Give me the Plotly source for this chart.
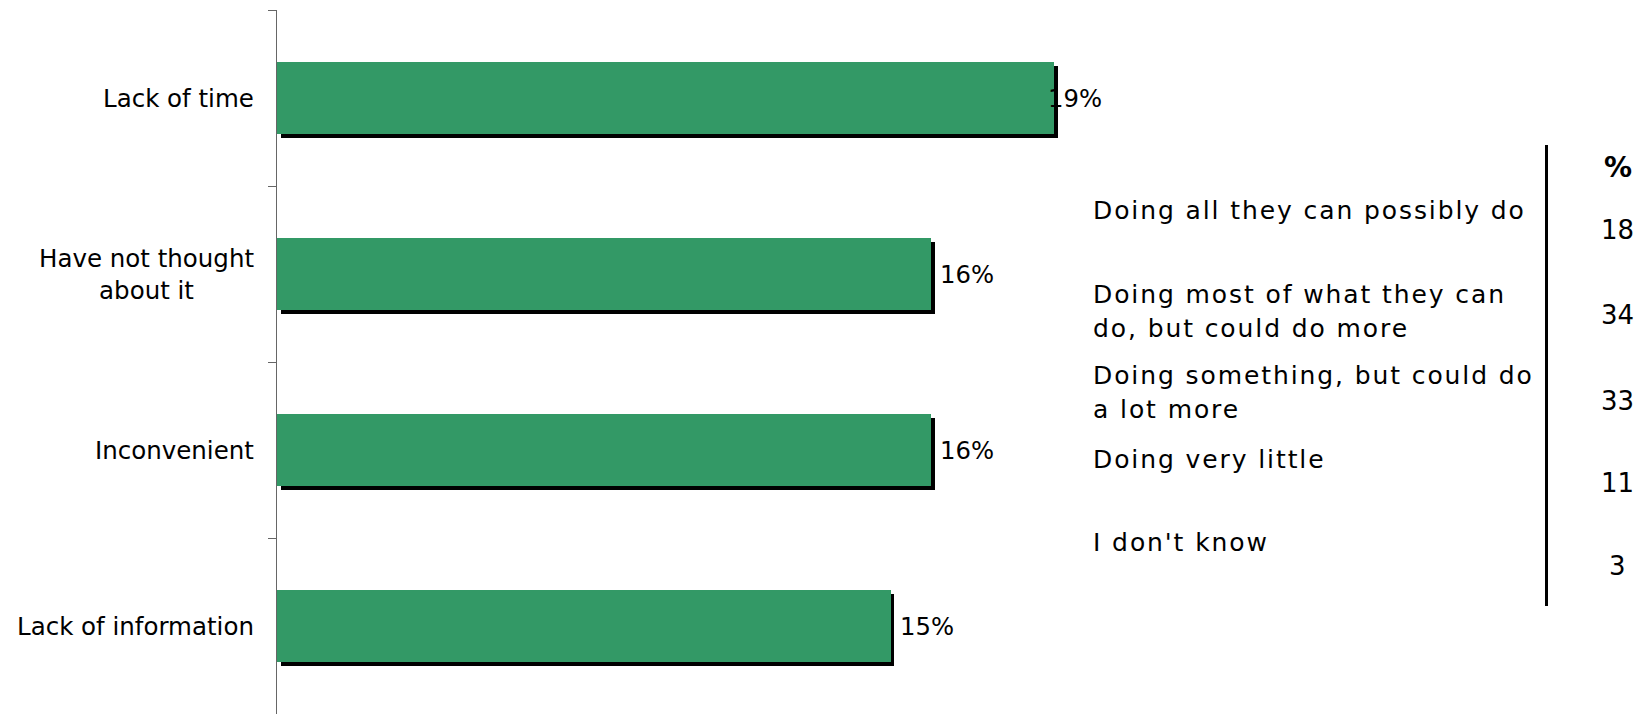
import plotly.graph_objects as go

# Bar chart data
reasons = ["Lack of time", "Have not thought<br>about it", "Inconvenient", "Lack of information"]
shares = [19, 16, 16, 15]

# Side panel data
effort_levels = [
    "Doing all they can possibly do",
    "Doing most of what they can<br>do, but could do more",
    "Doing something, but could do<br>a lot more",
    "Doing very little",
    "I don't know",
]
effort_pct = [18, 34, 33, 11, 3]
panel_header = "%"

# Layout geometry (pixels)
W, H = 1643, 714
L, R, T, B = 277, 0, 10, 0
PW, PH = W - L - R, H - T - B
PX_PER_UNIT = 40.9
FONT = "DejaVu Sans"
GREEN = "#339966"

BAR_WIDTH = 0.407
SHADOW_DX = 0.09      # in value units
SHADOW_DY = 0.022     # in category units
label_shift = [-6, 9, 9, 9]

PANEL_TEXT_X = 1091
PANEL_VALUE_X = 1617.5
PANEL_LINE_X = 1546.5
PANEL_LINE_GAP = 34
panel_label_tops = [210.4, 294.5, 375.8, 459.2, 542.5]
panel_value_centers = [230, 315.4, 401, 482.5, 565.8]
panel_header_center = 167.5


def px(x):
    return (x - L) / PW


def py(y):
    return 1 - (y - T) / PH


fig = go.Figure()

# drop shadow behind the bars
fig.add_trace(go.Bar(
    y=reasons, x=shares, base=SHADOW_DX, orientation="h",
    width=BAR_WIDTH, offset=-BAR_WIDTH / 2 + SHADOW_DY,
    marker=dict(color="black", line=dict(width=0)),
    hoverinfo="skip", showlegend=False,
))
# main bars
fig.add_trace(go.Bar(
    y=reasons, x=shares, orientation="h",
    width=BAR_WIDTH,
    marker=dict(color=GREEN, line=dict(width=0)),
    showlegend=False,
))

annotations = []
# category labels (centered multi-line, right-aligned to the axis)
for r in reasons:
    annotations.append(dict(
        x=0, xref="paper", y=r, yref="y", text=r, showarrow=False,
        xanchor="right", yanchor="middle", align="center", xshift=-21,
        font=dict(family=FONT, size=24.5, color="black"),
    ))
# value labels
for r, v, s in zip(reasons, shares, label_shift):
    annotations.append(dict(
        x=v, xref="x", y=r, yref="y", text=f"{v}%", showarrow=False,
        xanchor="left", yanchor="middle", xshift=s - 2,
        font=dict(family=FONT, size=24.3, color="black"),
    ))

# side panel: answer texts, one annotation per line
for txt, y0 in zip(effort_levels, panel_label_tops):
    for k, line in enumerate(txt.split("<br>")):
        annotations.append(dict(
            x=px(PANEL_TEXT_X), xref="paper",
            y=py(y0 + k * PANEL_LINE_GAP), yref="paper",
            text=f'<span style="letter-spacing:1.9px">{line}</span>',
            showarrow=False, xanchor="left", yanchor="middle", align="left",
            font=dict(family=FONT, size=25, color="black"),
        ))
for v, yc in zip(effort_pct, panel_value_centers):
    annotations.append(dict(
        x=px(PANEL_VALUE_X), xref="paper", y=py(yc), yref="paper", text=str(v),
        showarrow=False, xanchor="center", yanchor="middle",
        font=dict(family=FONT, size=26, color="black"),
    ))
annotations.append(dict(
    x=px(PANEL_VALUE_X), xref="paper", y=py(panel_header_center), yref="paper",
    text=f"<b>{panel_header}</b>",
    showarrow=False, xanchor="center", yanchor="middle",
    font=dict(family=FONT, size=28, color="black"),
))

fig.update_layout(
    width=W, height=H,
    margin=dict(l=L, r=R, t=T, b=B, pad=0),
    paper_bgcolor="white", plot_bgcolor="white",
    barmode="overlay", bargap=0,
    annotations=annotations,
    shapes=[dict(
        type="line", xref="paper", yref="paper",
        x0=px(PANEL_LINE_X), x1=px(PANEL_LINE_X), y0=py(145), y1=py(606),
        line=dict(color="black", width=3),
    )],
    xaxis=dict(range=[0, PW / PX_PER_UNIT], visible=False, fixedrange=True),
    yaxis=dict(
        type="category", categoryorder="array", categoryarray=reasons,
        range=[3.5, -0.5], tickson="boundaries", ticks="outside", ticklen=8,
        tickcolor="#666", showline=True, linecolor="#666", linewidth=1,
        showticklabels=False, showgrid=False, zeroline=False, fixedrange=True,
    ),
)

fig.write_html("out.html")
